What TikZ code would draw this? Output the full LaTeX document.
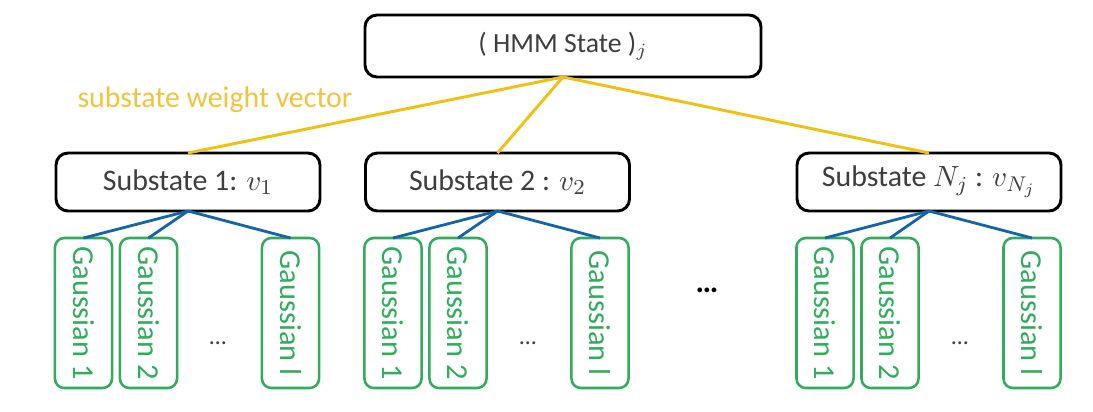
\documentclass[tikz,border=0pt]{standalone}
\usepackage{fontspec}
\setmainfont{Carlito}
\definecolor{wyellow}{RGB}{240,192,20}
\definecolor{wlabel}{RGB}{242,196,60}
\definecolor{lblue}{RGB}{22,100,168}
\definecolor{ggreen}{RGB}{48,172,92}
\definecolor{tgray}{RGB}{62,62,62}
\tikzset{
  statebox/.style={draw=black, line width=1.1pt, rounded corners=4.5pt, inner sep=0pt, outer sep=0pt,
    minimum width=148.5pt, minimum height=23.25pt, text=tgray, font=\fontsize{10.4}{12}\selectfont},
  subbox/.style={draw=black, line width=1.1pt, rounded corners=4.5pt, inner sep=0pt, outer sep=0pt,
    minimum width=99pt, minimum height=21.75pt, text=tgray, font=\fontsize{11.2}{13}\selectfont},
  gaussbox/.style={draw=ggreen, line width=0.95pt, rounded corners=3.5pt, inner sep=0pt, outer sep=0pt,
    rotate=-90, minimum width=56.25pt, minimum height=21.4pt, text=ggreen, font=\fontsize{11.4}{13}\selectfont},
  weightline/.style={draw=wyellow, line width=1.1pt},
  mixline/.style={draw=lblue, line width=1.05pt},
  smalldots/.style={text=tgray, font=\fontsize{9}{10}\selectfont, inner sep=0pt},
  bigdots/.style={text=black, font=\bfseries\fontsize{12}{12}\selectfont, inner sep=0pt},
}
\begin{document}
\begin{tikzpicture}[x=0.375pt,y=-0.375pt]
\fill[white] (0,0) rectangle (1093,411);
\useasboundingbox (0,0) rectangle (1093,411);

% HMM state
\node[statebox] (hmm) at (563,46) {( HMM State )$_j$};

% substates
\node[subbox] (s1) at (188,182) {Substate 1: $v_1$};
\node[subbox] (s2) at (497.5,182) {Substate 2 : $v_2$};
\node[subbox] (sN) at (929,182) {Substate $N_j$ : $v_{N_j}$};

% weight lines
\draw[weightline] (hmm.south) -- (s1.north);
\draw[weightline] (hmm.south) -- (s2.north);
\draw[weightline] (hmm.south) -- (sN.north);
\node[text=wlabel, font=\fontsize{11.2}{13}\selectfont, anchor=base west, inner sep=0pt] (wlab) at (77,107) {substate weight vector};

% Gaussians group 1
\node[gaussbox] (g11) at (83.5,313) {Gaussian 1};
\node[gaussbox] (g12) at (148.5,313) {Gaussian 2};
\node[gaussbox] (g1l) at (290.5,313) {Gaussian l};
\node[smalldots] (d1) at (218,343) {\dots};
% group 2
\node[gaussbox] (g21) at (393,313) {Gaussian 1};
\node[gaussbox] (g22) at (458,313) {Gaussian 2};
\node[gaussbox] (g2l) at (600,313) {Gaussian l};
\node[smalldots] (d2) at (528,343) {\dots};
% group N
\node[gaussbox] (gN1) at (825,313) {Gaussian 1};
\node[gaussbox] (gN2) at (890,313) {Gaussian 2};
\node[gaussbox] (gNl) at (1032,313) {Gaussian l};
\node[smalldots] (dN) at (960,343) {\dots};

% big dots
\node[bigdots] (bd) at (707,290) {\dots};

% mixture lines
\foreach \s/\g in {s1/g11, s1/g12, s1/g1l, s2/g21, s2/g22, s2/g2l, sN/gN1, sN/gN2, sN/gNl}
  \draw[mixline] (\s.south) -- (\g.west);
\end{tikzpicture}
\end{document}
